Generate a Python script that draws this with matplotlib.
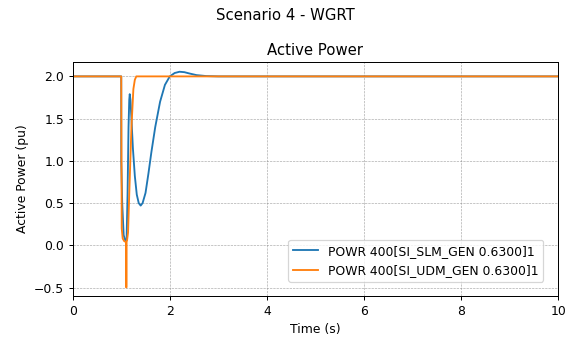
import matplotlib
matplotlib.use("Agg")
import matplotlib.pyplot as plt

# -------------------------------
# DATA
# -------------------------------
slm_time = [0.0, 1.0, 1.0, 1.02, 1.05, 1.08, 1.11, 1.13, 1.15, 1.165, 1.175,
            1.19, 1.21, 1.24, 1.28, 1.32, 1.36, 1.40, 1.44, 1.50, 1.56, 1.62,
            1.70, 1.80, 1.90, 2.00, 2.10, 2.20, 2.30, 2.40, 2.55, 2.75, 3.0, 10.0]
slm_power = [2.0, 2.0, 1.0, 0.5, 0.12, 0.06, 0.07, 0.6, 1.4, 1.72, 1.79,
             1.72, 1.5, 1.15, 0.82, 0.6, 0.5, 0.47, 0.5, 0.62, 0.85, 1.1,
             1.4, 1.7, 1.9, 2.0, 2.04, 2.055, 2.05, 2.035, 2.015, 2.004, 2.0, 2.0]

udm_time = [0.0, 1.0, 1.005, 1.01, 1.03, 1.06, 1.09, 1.10, 1.105, 1.11, 1.12,
            1.14, 1.17, 1.21, 1.25, 1.28, 1.31, 1.34, 10.0]
udm_power = [2.0, 2.0, 1.0, 0.2, 0.08, 0.05, 0.04, 0.04, -0.5, 0.04, 0.06,
             0.15, 0.7, 1.4, 1.85, 1.96, 2.0, 2.0, 2.0]

# -------------------------------
# PLOT
# -------------------------------
# reference looks like a 6.4in wide figure shown at 570 px -> 89 dpi
fig = plt.figure(figsize=(570 / 89, 339 / 89), dpi=89)
ax = fig.add_axes([0.1275, 0.127, 0.852, 0.69])

ax.plot(slm_time, slm_power, color="#1f77b4", label="POWR 400[SI_SLM_GEN 0.6300]1")
ax.plot(udm_time, udm_power, color="#ff7f0e", label="POWR 400[SI_UDM_GEN 0.6300]1")

fig.suptitle("Scenario 4 - WGRT", y=0.975)
ax.set_title("Active Power")
ax.set_xlabel("Time (s)")
ax.set_ylabel("Active Power (pu)")
ax.set_xlim(0, 10)
ax.set_ylim(-0.6, 2.17)
ax.grid(True, linestyle="--", linewidth=0.5, color="gray", alpha=0.7)
ax.legend(loc="lower right", bbox_to_anchor=(0.969, 0.06),
          bbox_transform=ax.transAxes, borderaxespad=0)

fig.savefig("out.png", dpi=89)
